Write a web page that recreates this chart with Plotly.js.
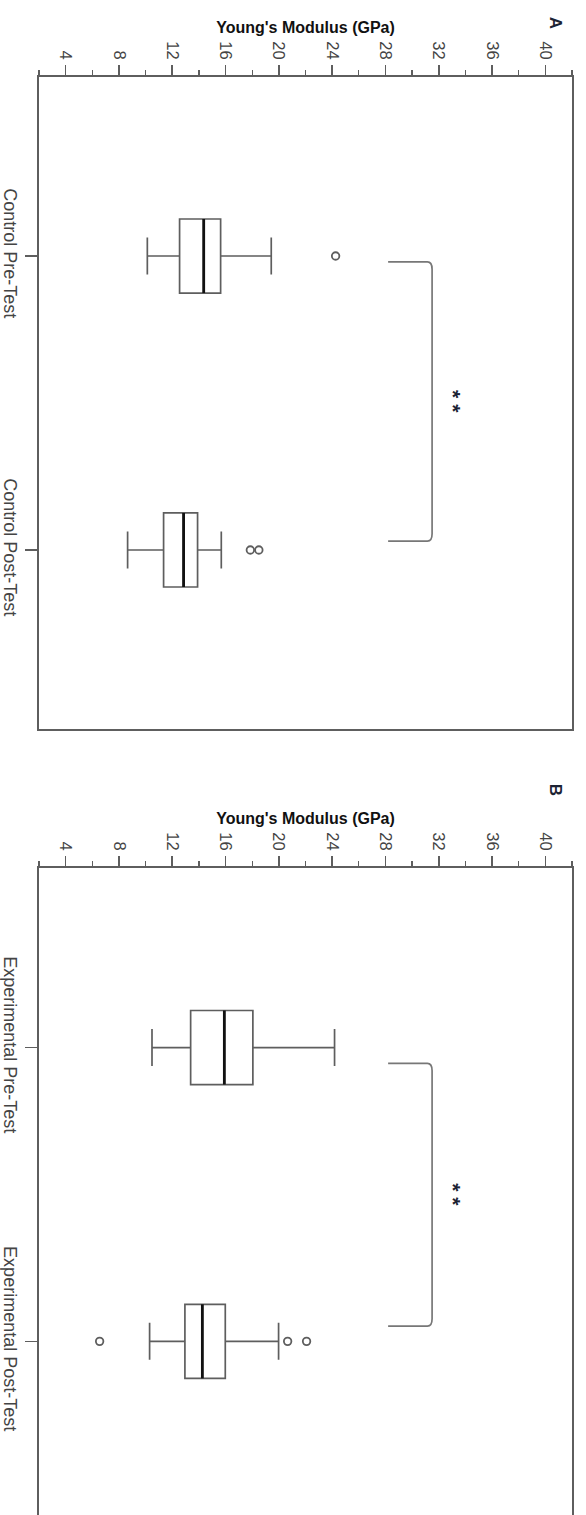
<!DOCTYPE html>
<html>
<head>
<meta charset="utf-8">
<script src="https://cdn.plot.ly/plotly-3.0.1.min.js"></script>
<style>html,body{margin:0;padding:0;background:#fff;}#chart{width:586px;height:1515px;}</style>
</head>
<body>
<div id="chart"></div>
<script>
// ---- Data ----
var categoriesA = ['Control Pre-Test', 'Control Post-Test'];
var categoriesB = ['Experimental Pre-Test', 'Experimental Post-Test'];
var lowA = [10.13, 8.65];
var q1A = [12.55, 11.35];
var medA = [14.36, 12.85];
var q3A = [15.63, 13.9];
var highA = [19.43, 15.68];
var outliersA = [[24.26], [17.86, 18.5]];
var lowB = [10.48, 10.3];
var q1B = [13.38, 12.95];
var medB = [15.91, 14.26];
var q3B = [18.05, 15.98];
var highB = [24.18, 19.98];
var outliersB = [[], [6.55, 20.66, 22.08]];
var tickValues = [4, 8, 12, 16, 20, 24, 28, 32, 36, 40];
var axisTitle = "Young's Modulus (GPa)";
var panelLabels = ['A', 'B'];
var significance = '* *';
var bracketX = [28.2, 31.5];          // value-axis extent of comparison bracket
var bracketYA = [0.02, 0.97];         // category-axis extent (panel A)
var bracketYB = [0.054, 0.948];       // category-axis extent (panel B)
var starX = 33.1;

// ---- Styles ----
var FONT = 'Liberation Sans, Arial, sans-serif';
var LINE = '#5e5e5e';
var BOXW = 0.252;

function boxTraces(cats, low, q1, med, q3, high, outs, xa, ya) {
  var pos = cats.map(function (c, i) { return i; });
  var tr = [];
  tr.push({
    type: 'box', orientation: 'h', xaxis: xa, yaxis: ya,
    y: pos, q1: q1, median: med, q3: q3, lowerfence: low, upperfence: high,
    width: BOXW, whiskerwidth: 0.5,
    line: {color: LINE, width: 1.7}, fillcolor: 'rgba(255,255,255,0)',
    boxpoints: false, hoverinfo: 'skip', showlegend: false
  });
  var mx = [], my = [];
  med.forEach(function (m, i) { mx.push(m, m, null); my.push(i - BOXW / 2, i + BOXW / 2, null); });
  tr.push({type: 'scatter', mode: 'lines', xaxis: xa, yaxis: ya, x: mx, y: my,
    line: {color: '#111', width: 2.8}, hoverinfo: 'skip', showlegend: false});
  var ox = [], oy = [];
  outs.forEach(function (arr, i) { arr.forEach(function (v) { ox.push(v); oy.push(i); }); });
  tr.push({type: 'scatter', mode: 'markers', xaxis: xa, yaxis: ya, x: ox, y: oy,
    marker: {symbol: 'circle-open', size: 7.5, color: LINE, line: {width: 1.8, color: LINE}},
    hoverinfo: 'skip', showlegend: false});
  return tr;
}

var data = [].concat(
  boxTraces(categoriesA, lowA, q1A, medA, q3A, highA, outliersA, 'x', 'y'),
  boxTraces(categoriesB, lowB, q1B, medB, q3B, highB, outliersB, 'x2', 'y2')
);

function xAxis(anchor, mirror) {
  return {
    anchor: anchor, side: 'top', range: [2, 42], tickvals: tickValues,
    ticktext: tickValues.map(String), tickangle: 90,
    ticks: 'outside', ticklen: 10, tickwidth: 1.6, tickcolor: LINE,
    minor: {dtick: 2, tick0: 0, ticks: 'outside', ticklen: 5, tickwidth: 1.3, tickcolor: LINE, showgrid: false},
    showline: true, linecolor: LINE, linewidth: 1.6, mirror: mirror,
    showgrid: false, zeroline: false, fixedrange: true,
    tickfont: {family: FONT, size: 16.5, color: '#444'},
    title: {text: axisTitle, standoff: 3, font: {family: FONT, size: 16, color: '#111', weight: 'bold'}},
    automargin: false
  };
}
function yAxis(anchor, cats, range, domain, mirror) {
  return {
    anchor: anchor, domain: domain, range: range,
    tickvals: cats.map(function (c, i) { return i; }), ticktext: cats,
    tickangle: 90, ticks: 'outside', ticklen: 12, tickwidth: 1.5, tickcolor: LINE,
    showline: true, linecolor: LINE, linewidth: 1.6, mirror: mirror,
    showgrid: false, zeroline: false, fixedrange: true,
    tickfont: {family: FONT, size: 18, color: '#444'}, automargin: false
  };
}

var H = 1515;
var layout = {
  width: 586, height: H,
  margin: {l: 39.3, r: 13.7, t: 0, b: 0, pad: 0},
  paper_bgcolor: '#fff', plot_bgcolor: '#fff',
  showlegend: false,
  xaxis: xAxis('y', true),
  xaxis2: xAxis('y2', false),
  yaxis: yAxis('x', categoriesA, [1.609, -0.609], [1 - 729 / H, 1 - 77 / H], true),
  yaxis2: yAxis('x2', categoriesB, [1.591, -0.611], [0, 1 - 868 / H], true),
  shapes: [],
  annotations: []
};

function bracket(xr, yr, xref, yref) {
  var x0 = xr[0], x1 = xr[1], y0 = yr[0], y1 = yr[1];
  var dx = 0.35, dy = 0.025;
  var p = 'M' + x0 + ',' + y0 + ' L' + (x1 - dx) + ',' + y0 +
    ' Q' + x1 + ',' + y0 + ' ' + x1 + ',' + (y0 + dy) +
    ' L' + x1 + ',' + (y1 - dy) +
    ' Q' + x1 + ',' + y1 + ' ' + (x1 - dx) + ',' + y1 +
    ' L' + x0 + ',' + y1;
  return {type: 'path', path: p, xref: xref, yref: yref, line: {color: '#777', width: 1.7}};
}
layout.shapes.push(bracket(bracketX, bracketYA, 'x', 'y'));
layout.shapes.push(bracket(bracketX, bracketYB, 'x2', 'y2'));

[['x', 'y', bracketYA], ['x2', 'y2', bracketYB]].forEach(function (p) {
  layout.annotations.push({
    xref: p[0], yref: p[1], x: starX, y: (p[2][0] + p[2][1]) / 2,
    text: '<b>' + significance + '</b>', showarrow: false, textangle: 90,
    font: {family: FONT, size: 21, color: '#1c2333'}
  });
});
layout.annotations.push({xref: 'paper', yref: 'paper', x: (568 - 39.3) / 532.9, y: 1 - 15 / H,
  text: '<b>' + panelLabels[0] + '</b>', showarrow: false, textangle: 90,
  font: {family: FONT, size: 17, color: '#1c2333'}});
layout.annotations.push({xref: 'paper', yref: 'paper', x: (568 - 39.3) / 532.9, y: 1 - 790 / H,
  text: '<b>' + panelLabels[1] + '</b>', showarrow: false, textangle: 90,
  font: {family: FONT, size: 17, color: '#1c2333'}});

Plotly.newPlot('chart', data, layout, {staticPlot: true, displayModeBar: false});
</script>
</body>
</html>
